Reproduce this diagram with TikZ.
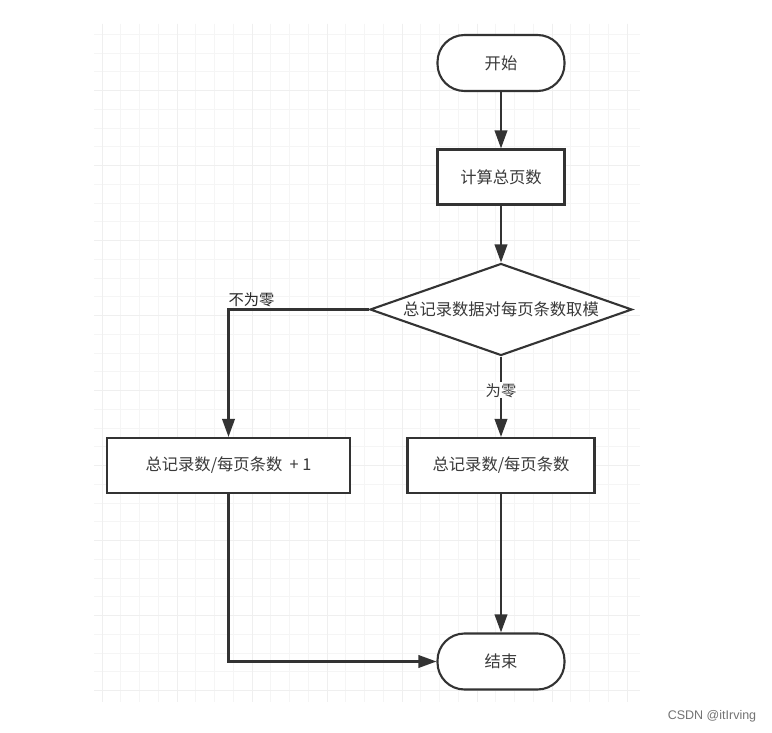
\documentclass[tikz,border=0pt]{standalone}
\usepackage{fontspec}
\setmainfont{Noto Sans CJK SC}
\newfontfamily\wmfont{Liberation Sans}
\usetikzlibrary{arrows.meta,shapes.geometric}
\definecolor{lc}{HTML}{333333}
\definecolor{tc}{HTML}{3A3A3A}
\definecolor{gminor}{HTML}{F5F5F5}
\definecolor{gmajor}{HTML}{EFEFEF}
\tikzset{
  minorgrid/.style={draw=gminor, line width=1pt},
  majorgrid/.style={draw=gmajor, line width=1pt},
  base/.style={draw=lc, line width=2.1pt, fill=white, text=tc, font=\fontsize{16.3}{18}\selectfont, inner sep=0pt},
  term/.style={base, rectangle, rounded corners=27pt, minimum width=127pt, minimum height=56pt},
  procbox/.style={base, rectangle, minimum height=55pt},
  decision/.style={base, diamond, aspect=2.85, minimum width=262pt, minimum height=92pt},
  conn/.style={draw=lc, line width=2.1pt, -{Triangle[length=18pt,width=12.5pt]}},
  lbl/.style={text=tc, font=\fontsize{15.3}{17}\selectfont, inner sep=1pt},
}
\begin{document}
\begin{tikzpicture}[x=1pt,y=-1pt]
\useasboundingbox (0,0) rectangle (772,733);
\fill[white] (0,0) rectangle (772,733);
% grid
\foreach \i in {0,...,28} {
  \pgfmathsetmacro{\gx}{102+18.75*\i}
  \draw[minorgrid] (\gx,24) -- (\gx,702);
}
\foreach \i in {0,...,35} {
  \pgfmathsetmacro{\gy}{34.45+18.75*\i}
  \draw[minorgrid] (94,\gy) -- (640,\gy);
}
\foreach \i in {0,...,7} {
  \pgfmathsetmacro{\gx}{102+75*\i}
  \draw[majorgrid] (\gx,24) -- (\gx,702);
}
\foreach \i in {0,...,8} {
  \pgfmathsetmacro{\gy}{90.7+75*\i}
  \draw[majorgrid] (94,\gy) -- (640,\gy);
}
% nodes
\node[term] (start) at (501,63) {开始};
\node[procbox, minimum width=127pt] (calc) at (501,177) {计算总页数};
\node[decision] (mod) at (501,309.5) {总记录数据对每页条数取模};
\node[procbox, minimum width=243pt] (left) at (228.5,465.5) {总记录数/每页条数 \ + 1};
\node[procbox, minimum width=187pt] (right) at (501,465.5) {总记录数/每页条数};
\node[term] (end) at (501,661.5) {结束};
% connectors
\draw[conn] (start) -- (calc);
\draw[conn] (calc) -- (mod);
\draw[conn] (mod.south) -- node[lbl, fill=white, pos=0.42] {为零} (right.north);
\draw[conn] (mod.west) -| node[lbl, pos=0.5, anchor=south west, xshift=-2pt, yshift=1pt, text=black!85] {不为零} (left.north);
\draw[conn] (right) -- (end);
\draw[conn] (left.south) |- (end.west);
% watermark
\node[text=black!55, font=\wmfont\fontsize{12.5}{14}\selectfont, inner sep=0pt] (wm) at (712,716) {CSDN @itIrving};
\end{tikzpicture}
\end{document}
